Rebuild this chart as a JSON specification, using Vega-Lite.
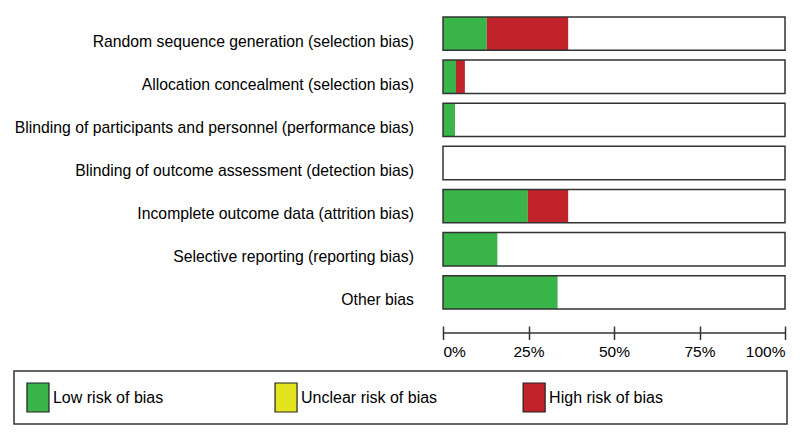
{
  "$schema": "https://vega.github.io/schema/vega-lite/v6.json",
  "padding": {"left": 13, "top": 12, "right": 0, "bottom": 0},
  "spacing": 10,
  "background": "white",
  "config": {
    "view": {"stroke": null},
    "font": "Liberation Sans",
    "text": {"font": "Liberation Sans"}
  },
  "datasets": {
    "bias": [
      {"domain": "Random sequence generation (selection bias)", "judgement": "Low risk of bias", "pct": 12.8},
      {"domain": "Random sequence generation (selection bias)", "judgement": "High risk of bias", "pct": 23.8},
      {"domain": "Allocation concealment (selection bias)", "judgement": "Low risk of bias", "pct": 3.8},
      {"domain": "Allocation concealment (selection bias)", "judgement": "High risk of bias", "pct": 2.6},
      {"domain": "Blinding of participants and personnel (performance bias)", "judgement": "Low risk of bias", "pct": 3.5},
      {"domain": "Blinding of participants and personnel (performance bias)", "judgement": "High risk of bias", "pct": 0},
      {"domain": "Blinding of outcome assessment (detection bias)", "judgement": "Low risk of bias", "pct": 0},
      {"domain": "Blinding of outcome assessment (detection bias)", "judgement": "High risk of bias", "pct": 0},
      {"domain": "Incomplete outcome data (attrition bias)", "judgement": "Low risk of bias", "pct": 24.8},
      {"domain": "Incomplete outcome data (attrition bias)", "judgement": "High risk of bias", "pct": 11.8},
      {"domain": "Selective reporting (reporting bias)", "judgement": "Low risk of bias", "pct": 15.9},
      {"domain": "Selective reporting (reporting bias)", "judgement": "High risk of bias", "pct": 0},
      {"domain": "Other bias", "judgement": "Low risk of bias", "pct": 33.5},
      {"domain": "Other bias", "judgement": "High risk of bias", "pct": 0}
    ],
    "domains": [
      {"domain": "Random sequence generation (selection bias)"},
      {"domain": "Allocation concealment (selection bias)"},
      {"domain": "Blinding of participants and personnel (performance bias)"},
      {"domain": "Blinding of outcome assessment (detection bias)"},
      {"domain": "Incomplete outcome data (attrition bias)"},
      {"domain": "Selective reporting (reporting bias)"},
      {"domain": "Other bias"}
    ],
    "legend": [
      {"judgement": "Low risk of bias"},
      {"judgement": "Unclear risk of bias"},
      {"judgement": "High risk of bias"}
    ]
  },
  "vconcat": [
    {
      "spacing": 28,
      "hconcat": [
        {
          "data": {"name": "domains"},
          "width": 400,
          "height": 302,
          "mark": {"type": "text", "align": "right", "baseline": "middle", "dy": 8, "fontSize": 15.75, "color": "#000"},
          "encoding": {
            "y": {
              "field": "domain",
              "type": "nominal",
              "scale": {
                "domain": [
                  "Random sequence generation (selection bias)",
                  "Allocation concealment (selection bias)",
                  "Blinding of participants and personnel (performance bias)",
                  "Blinding of outcome assessment (detection bias)",
                  "Incomplete outcome data (attrition bias)",
                  "Selective reporting (reporting bias)",
                  "Other bias"
                ],
                "paddingInner": 0.227,
                "paddingOuter": 0.1135
              },
              "axis": null
            },
            "x": {"value": "width"},
            "text": {"field": "domain", "type": "nominal"}
          }
        },
        {
          "width": 342,
          "height": 302,
          "encoding": {
            "y": {
              "field": "domain",
              "type": "nominal",
              "scale": {
                "domain": [
                  "Random sequence generation (selection bias)",
                  "Allocation concealment (selection bias)",
                  "Blinding of participants and personnel (performance bias)",
                  "Blinding of outcome assessment (detection bias)",
                  "Incomplete outcome data (attrition bias)",
                  "Selective reporting (reporting bias)",
                  "Other bias"
                ],
                "paddingInner": 0.227,
                "paddingOuter": 0.1135
              },
              "axis": null
            }
          },
          "layer": [
            {
              "data": {"name": "domains"},
              "mark": {"type": "bar", "fill": "white"},
              "encoding": {
                "x": {"datum": 100, "type": "quantitative", "scale": {"domain": [0, 100]}, "axis": null}
              }
            },
            {
              "data": {"name": "bias"},
              "mark": {"type": "bar"},
              "encoding": {
                "x": {
                  "field": "pct",
                  "type": "quantitative",
                  "stack": "zero",
                  "scale": {"domain": [0, 100]},
                  "axis": {
                    "orient": "bottom",
                    "offset": 18.5,
                    "values": [0, 25, 50, 75, 100],
                    "labelExpr": "datum.value + '%'",
                    "labelFlush": true,
                    "grid": false,
                    "title": null,
                    "domainColor": "#333",
                    "domainWidth": 1.5,
                    "tickColor": "#333",
                    "tickWidth": 1.5,
                    "tickSize": 7,
                    "labelFontSize": 15.5,
                    "labelPadding": 5,
                    "labelColor": "#000"
                  }
                },
                "color": {
                  "field": "judgement",
                  "type": "nominal",
                  "scale": {
                    "domain": ["Low risk of bias", "Unclear risk of bias", "High risk of bias"],
                    "range": ["#39b54a", "#e4e41e", "#c1232b"]
                  },
                  "legend": null
                },
                "order": {"field": "judgement", "sort": "descending"}
              }
            },
            {
              "data": {"name": "domains"},
              "mark": {"type": "bar", "fill": null, "stroke": "#333", "strokeWidth": 1.5},
              "encoding": {
                "x": {
                  "datum": 100,
                  "type": "quantitative",
                  "scale": {"domain": [0, 100]},
                  "axis": {
                    "orient": "bottom",
                    "offset": 12,
                    "values": [0, 25, 50, 75, 100],
                    "domain": false,
                    "labels": false,
                    "grid": false,
                    "title": null,
                    "tickColor": "#333",
                    "tickWidth": 1.5,
                    "tickSize": 7
                  }
                }
              }
            }
          ],
          "resolve": {"axis": {"x": "independent"}}
        }
      ]
    },
    {
      "data": {"name": "legend"},
      "width": 773,
      "height": 53,
      "view": {"stroke": "#333", "strokeWidth": 1.5},
      "encoding": {
        "x": {
          "field": "judgement",
          "type": "nominal",
          "scale": {
            "type": "point",
            "domain": ["Low risk of bias", "Unclear risk of bias", "High risk of bias"],
            "padding": 0.558,
            "align": 0.0866
          },
          "axis": null
        }
      },
      "layer": [
        {
          "mark": {"type": "point", "shape": "M-0.76,-1H0.76V1H-0.76Z", "size": 841, "filled": true, "opacity": 1, "stroke": "#222", "strokeWidth": 1.2},
          "encoding": {
            "color": {
              "field": "judgement",
              "type": "nominal",
              "scale": {
                "domain": ["Low risk of bias", "Unclear risk of bias", "High risk of bias"],
                "range": ["#39b54a", "#e4e41e", "#c1232b"]
              },
              "legend": null
            }
          }
        },
        {
          "mark": {"type": "text", "align": "left", "baseline": "middle", "dx": 15, "fontSize": 16, "color": "#000"},
          "encoding": {"text": {"field": "judgement"}}
        }
      ]
    }
  ]
}
